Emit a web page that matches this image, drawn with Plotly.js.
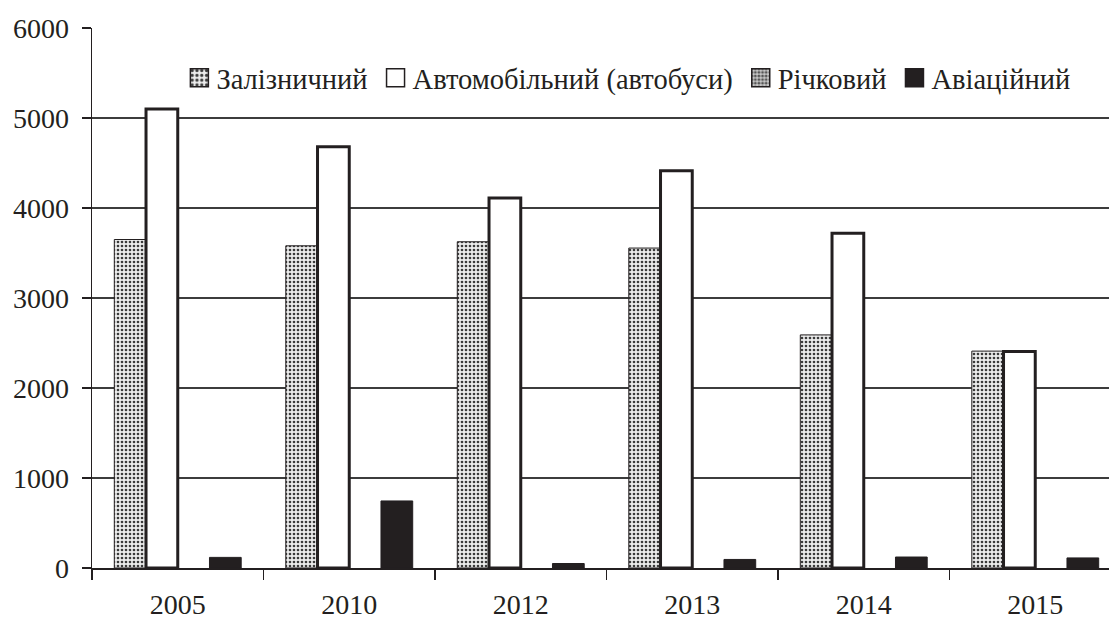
<!DOCTYPE html>
<html>
<head>
<meta charset="utf-8">
<script src="https://cdn.plot.ly/plotly-3.0.1.min.js"></script>
<style>
html,body{margin:0;padding:0;overflow:hidden;background:#fff;}
#chart{width:1121px;height:623px;}
</style>
</head>
<body>
<div id="chart"></div>
<script>
const years = ['2005', '2010', '2012', '2013', '2014', '2015'];
const railway = [3650, 3580, 3625, 3555, 2590, 2410];
const autobus = [5100, 4680, 4110, 4415, 3720, 2405];
const river = [0, 0, 0, 0, 0, 0];
const aviation = [118, 745, 50, 95, 122, 112];
const seriesNames = ['Залізничний', 'Автомобільний (автобуси)', 'Річковий', 'Авіаційний'];
const yTicks = [0, 1000, 2000, 3000, 4000, 5000, 6000];

const ink = '#231f20';
const fam = '"Liberation Serif", "Times New Roman", serif';
const traces = [
  {
    type: 'bar', name: seriesNames[0], x: years, y: railway,
    marker: {
      color: '#e6e6e6',
      pattern: {shape: '.', fgcolor: '#3a3a3a', bgcolor: '#ececec', size: 4, solidity: 0.35},
      line: {color: ink, width: 1}
    }
  },
  {
    type: 'bar', name: seriesNames[1], x: years, y: autobus,
    marker: {color: '#ffffff', line: {color: ink, width: 3}}
  },
  {
    type: 'bar', name: seriesNames[2], x: years, y: river,
    marker: {
      color: '#b5b5b5',
      pattern: {shape: '.', fgcolor: '#555', bgcolor: '#c8c8c8', size: 3, solidity: 0.5},
      line: {color: '#888', width: 0}
    }
  },
  {
    type: 'bar', name: seriesNames[3], x: years, y: aviation,
    marker: {color: ink, line: {color: ink, width: 1}}
  }
];

const layout = {
  width: 1121, height: 623,
  margin: {l: 92, r: 0, t: 28, b: 55},
  paper_bgcolor: '#ffffff', plot_bgcolor: '#ffffff',
  font: {family: fam, size: 28, color: ink},
  barmode: 'group', bargap: 0.26, bargroupgap: 0,
  showlegend: true,
  legend: {
    orientation: 'h', x: 0.082, y: 0.907, xanchor: 'left', yanchor: 'middle',
    bgcolor: 'rgba(255,255,255,0)', font: {family: fam, size: 28.5, color: ink},
    itemwidth: 30, traceorder: 'normal'
  },
  xaxis: {
    type: 'category', tickson: 'boundaries', ticks: 'outside', ticklen: 10, tickwidth: 1.5,
    tickcolor: ink, showline: true, linecolor: ink, linewidth: 1.5,
    showgrid: false, zeroline: false, tickfont: {family: fam, size: 28, color: ink},
    ticklabelstandoff: 11
  },
  yaxis: {
    range: [0, 6000], tickvals: yTicks, ticktext: yTicks.map(String),
    ticks: 'outside', ticklen: 9, tickwidth: 1.5, tickcolor: ink,
    showline: true, linecolor: ink, linewidth: 1.5,
    showgrid: true, gridcolor: '#3c3c3c', gridwidth: 1.5, zeroline: false,
    tickfont: {family: fam, size: 28, color: ink}, fixedrange: true,
    ticklabelstandoff: 7
  }
};

Plotly.newPlot('chart', traces, layout, {displayModeBar: false, staticPlot: true}).then(function (gd) {
  // enlarge the legend swatches to match the reference's bigger squares
  gd.querySelectorAll('.legend .legendpoints path').forEach(function (p) {
    const t = p.getAttribute('transform') || '';
    p.setAttribute('transform', t + ' translate(3,0) scale(1.5)');
    p.style.strokeWidth = '1px';
    p.style.stroke = '#231f20';
  });
});
</script>
</body>
</html>
